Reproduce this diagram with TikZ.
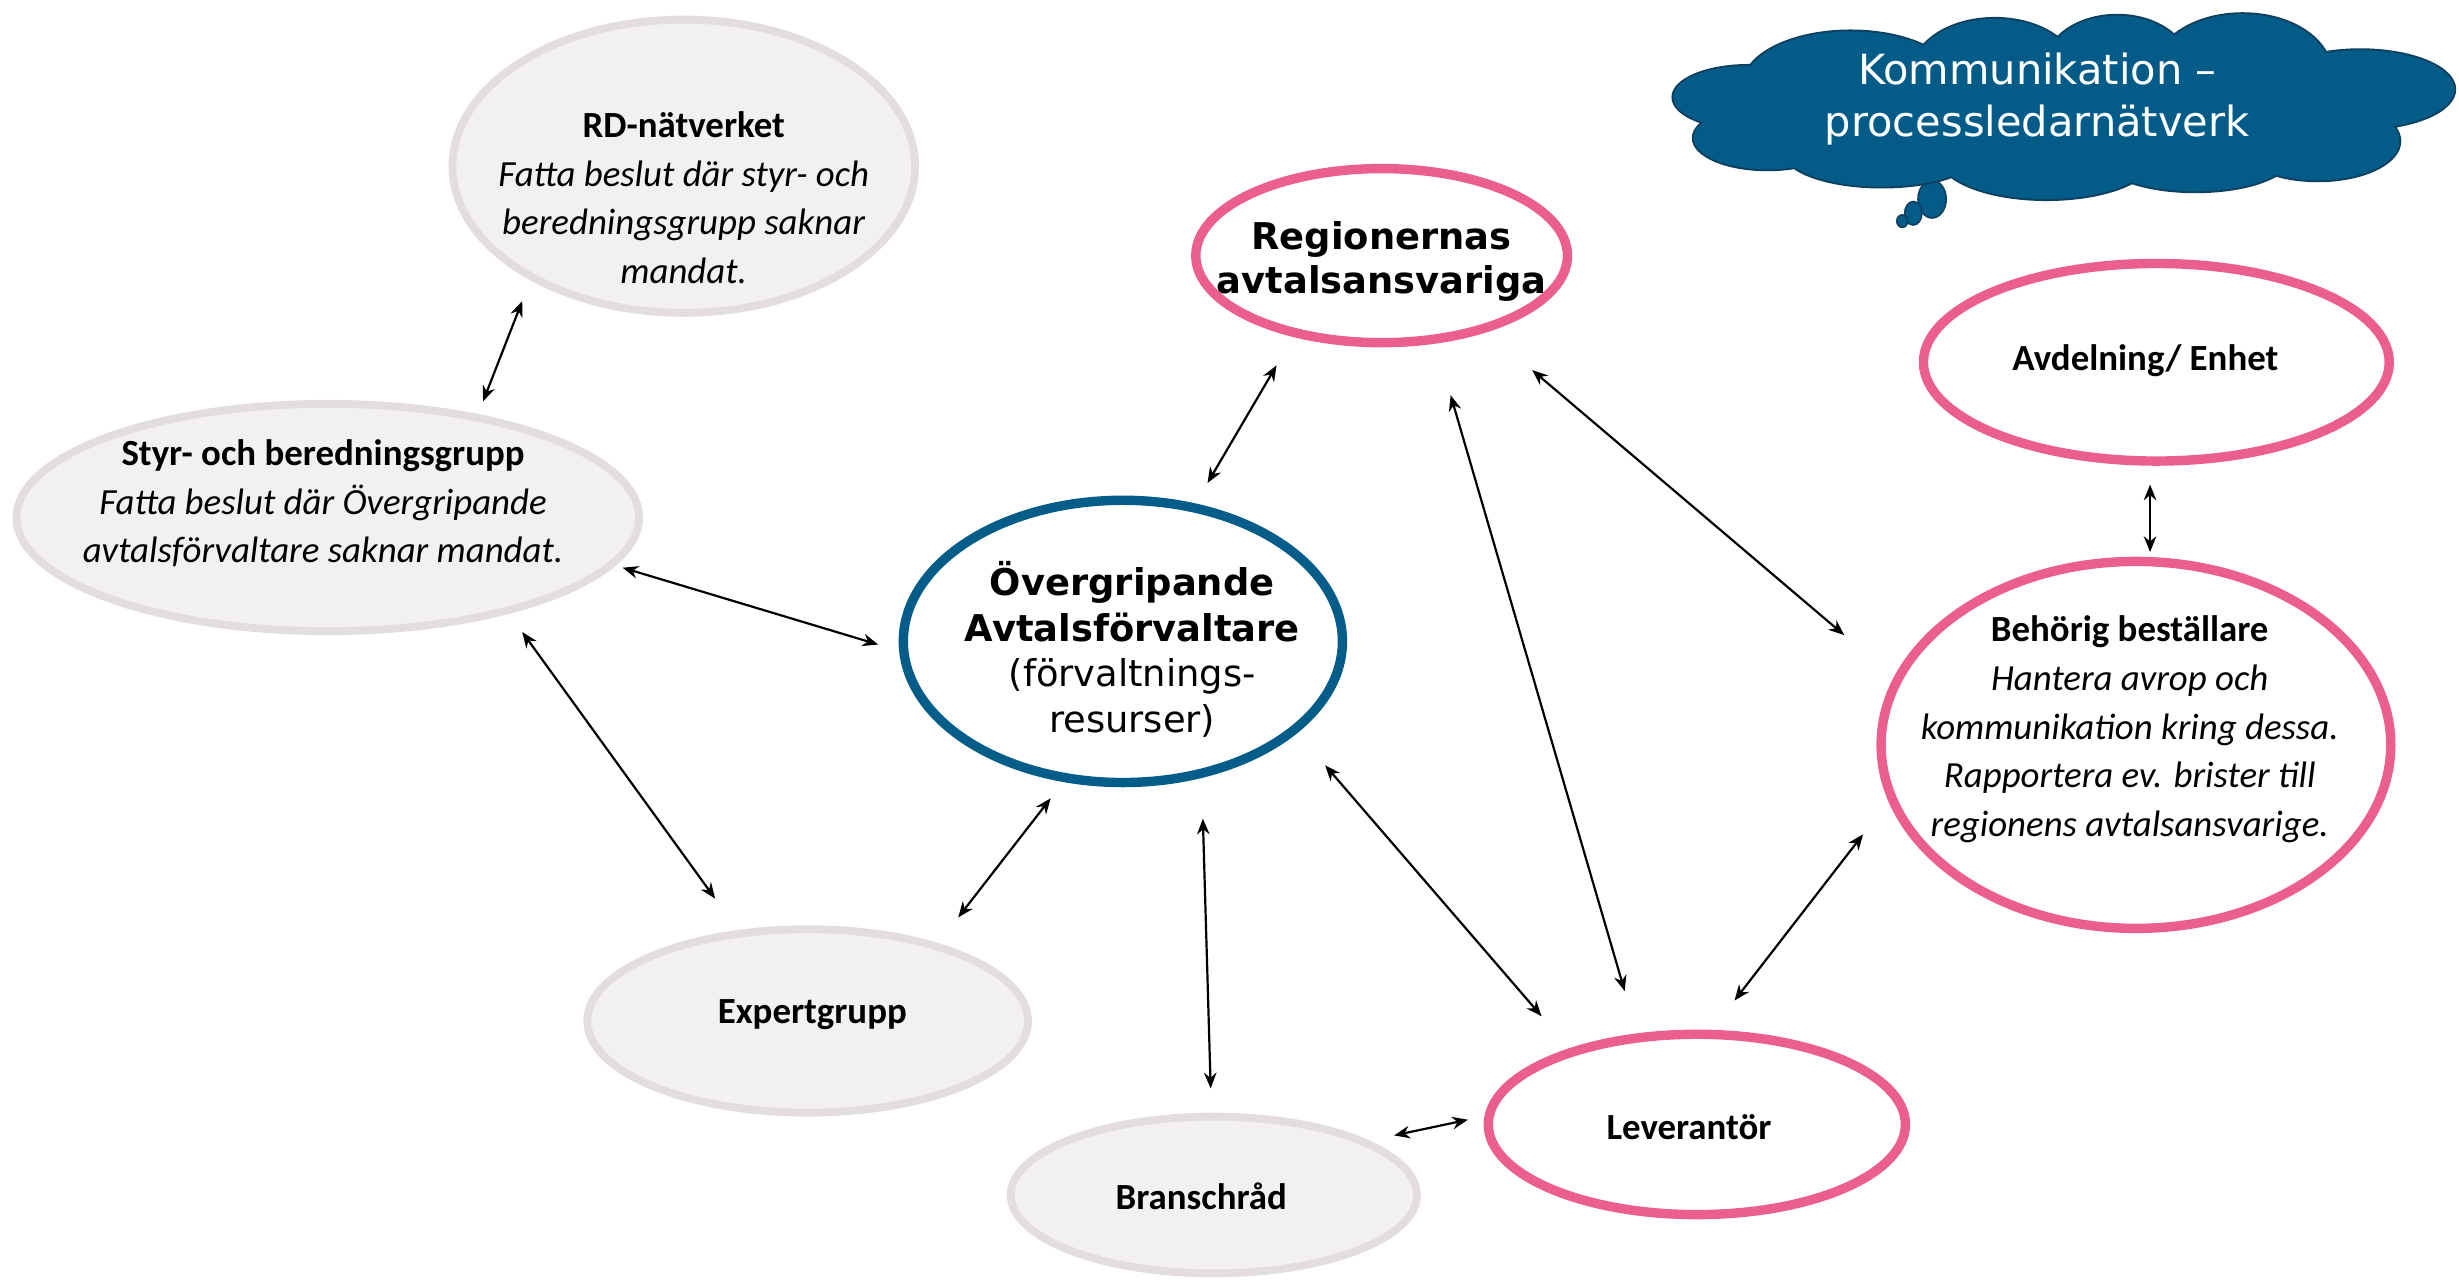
\documentclass[tikz,border=0pt]{standalone}
\usepackage{fontspec}
\setmainfont{Carlito}
\newfontfamily\verd{DejaVu Sans}
\usetikzlibrary{shapes.geometric,arrows.meta}
\definecolor{greyfill}{HTML}{F2F1F0}
\definecolor{greyline}{HTML}{E3DEDD}
\definecolor{pinkline}{HTML}{EA5F8F}
\definecolor{blueline}{HTML}{045C89}
\definecolor{cloudfill}{HTML}{035B88}
\definecolor{cloudline}{HTML}{0E3F5E}
\begin{document}
\begin{tikzpicture}[x=1pt,y=-1pt,
  greyell/.style={ellipse, draw=greyline, line width=5pt, fill=greyfill, inner sep=0pt, outer sep=0pt},
  pinkell/.style={ellipse, draw=pinkline, line width=6pt, fill=white, inner sep=0pt, outer sep=0pt},
  blueell/.style={ellipse, draw=blueline, line width=6pt, fill=white, inner sep=0pt, outer sep=0pt},
  lbl/.style={align=center, inner sep=0pt, font=\fontsize{23.5}{31}\selectfont},
  blbl/.style={align=center, inner sep=0pt, font=\bfseries\fontsize{23.5}{31}\selectfont},
  vlbl/.style={align=center, inner sep=0pt, font=\verd\fontsize{23.5}{29}\selectfont},
  conn/.style={{Stealth[length=10pt,width=8pt]}-{Stealth[length=10pt,width=8pt]}, line width=1.4pt},
  bubble/.style={ellipse, fill=cloudfill, draw=cloudline, line width=1pt, inner sep=0pt}
]
\useasboundingbox (0,0) rectangle (1568,818);
\fill[white] (0,0) rectangle (1568,818);

% cloud (union of puffs)
\node[bubble, minimum width=18, minimum height=24] (b1) at (1232,127) {};
\node[bubble, minimum width=11, minimum height=15] (b2) at (1220,136) {};
\node[bubble, minimum width=7, minimum height=8] (b3) at (1213,141) {};
\def\cloudpuffs{
  (1115,62) ellipse [x radius=48, y radius=20]
  (1127,88) ellipse [x radius=47, y radius=20]
  (1180,54) ellipse [x radius=68, y radius=34]
  (1272,46) ellipse [x radius=52, y radius=34]
  (1350,43) ellipse [x radius=46, y radius=33]
  (1430,46) ellipse [x radius=56, y radius=37]
  (1505,57) ellipse [x radius=60, y radius=25]
  (1478,90) ellipse [x radius=52, y radius=25]
  (1400,100) ellipse [x radius=60, y radius=22]
  (1305,100) ellipse [x radius=68, y radius=27]
  (1200,97) ellipse [x radius=62, y radius=22]
}
\draw[cloudline, line width=2.4pt] \cloudpuffs;
\fill[cloudfill] \cloudpuffs;
\fill[cloudfill] (1310,72) ellipse [x radius=200, y radius=40];
\node[align=center, inner sep=0pt, text=white, font=\verd\fontsize{26.5}{33}\selectfont] (cloudt) at (1299,63)
  {Kommunikation –\\processledarnätverk};

% ellipses
\node[greyell, minimum width=295, minimum height=187] (rd) at (436,106) {};
\node[greyell, minimum width=397, minimum height=145] (styr) at (209,330) {};
\node[greyell, minimum width=281, minimum height=117] (expert) at (515,651) {};
\node[greyell, minimum width=259, minimum height=100] (bransch) at (774,762) {};
\node[blueell, minimum width=280, minimum height=180] (over) at (716,409) {};
\node[pinkell, minimum width=237, minimum height=111] (reg) at (881,163) {};
\node[pinkell, minimum width=297, minimum height=126] (avd) at (1375,231) {};
\node[pinkell, minimum width=325, minimum height=234] (beh) at (1362,475) {};
\node[pinkell, minimum width=266, minimum height=115] (lev) at (1082,717) {};

% texts
\node[lbl] (rdt) at (436,126) {\textbf{RD-nätverket}\\\textit{Fatta beslut där styr- och}\\\textit{beredningsgrupp saknar}\\\textit{mandat.}};
\node[lbl] (styrt) at (206,321) {\textbf{Styr- och beredningsgrupp}\\\textit{Fatta beslut där Övergripande}\\\textit{avtalsförvaltare saknar mandat.}};
\node[blbl] (expertt) at (518,647) {Expertgrupp};
\node[blbl] (branscht) at (766,763) {Branschråd};
\node[blbl] (levt) at (1077,719) {Leverantör};
\node[blbl] (avdt) at (1368,230) {Avdelning/ Enhet};
\node[lbl] (beht) at (1358,465) {\textbf{Behörig beställare}\\\textit{Hantera avrop och}\\\textit{kommunikation kring dessa.}\\\textit{Rapportera ev. brister till}\\\textit{regionens avtalsansvarige.}};
\node[vlbl] (overt) at (722,414) {\textbf{Övergripande}\\\textbf{Avtalsförvaltare}\\(förvaltnings-\\resurser)};
\node[vlbl, font=\verd\bfseries\fontsize{23.5}{28}\selectfont] (regt) at (881,167) {Regionernas\\avtalsansvariga};

% connectors
\draw[conn] ([shift={(-103,86)}]rd.center) -- ([shift={(99,-74)}]styr.center);
\draw[conn] ([shift={(188,32)}]styr.center) -- ([shift={(-156,2)}]over.center);
\draw[conn] ([shift={(124,73)}]styr.center) -- ([shift={(-59,-78)}]expert.center);
\draw[conn] ([shift={(-46,100)}]over.center) -- ([shift={(96,-66)}]expert.center);
\draw[conn] ([shift={(51,113)}]over.center) -- ([shift={(-2,-68)}]bransch.center);
\draw[conn] ([shift={(129,79)}]over.center) -- ([shift={(-99,-69)}]lev.center);
\draw[conn] ([shift={(54,-101)}]over.center) -- ([shift={(-67,70)}]reg.center);
\draw[conn] ([shift={(44,89)}]reg.center) -- ([shift={(-46,-85)}]lev.center);
\draw[conn] ([shift={(96,73)}]reg.center) -- ([shift={(-186,-70)}]beh.center);
\draw[conn] ([shift={(-4,78)}]avd.center) -- ([shift={(9,-123)}]beh.center);
\draw[conn] ([shift={(24,-79)}]lev.center) -- ([shift={(-174,57)}]beh.center);
\draw[conn] ([shift={(115,-38)}]bransch.center) -- ([shift={(-146,-3)}]lev.center);
\end{tikzpicture}
\end{document}
